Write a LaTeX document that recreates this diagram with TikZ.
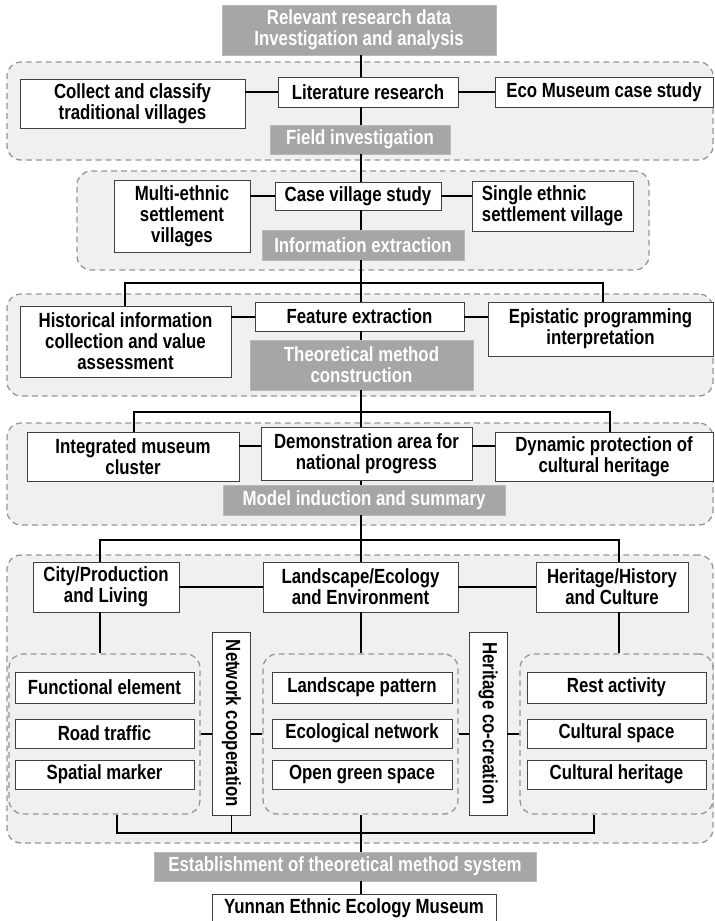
\documentclass[tikz,border=0pt]{standalone}
\usepackage{fontspec}
\setmainfont{Liberation Sans}[FakeStretch=0.82]
\definecolor{headgray}{RGB}{166,166,166}
\definecolor{zonegray}{RGB}{240,240,240}
\definecolor{dashgray}{RGB}{150,150,150}
\tikzset{
  wh/.style 2 args={minimum width=#1*0.03cm, minimum height=#2*0.03cm},
  zone/.style={draw=dashgray, fill=zonegray, line width=1.1pt, dash pattern=on 5pt off 3.5pt, rounded corners=12pt, inner sep=0},
  box/.style={draw=black!75, fill=white, line width=0.8pt, align=center, inner sep=0},
  head/.style={draw=gray!55, fill=headgray, text=white},
  link/.style={line width=1.7pt},
}
\begin{document}
\begin{tikzpicture}[x=0.03cm, y=-0.03cm, font=\fontsize{17.5}{18}\selectfont\bfseries]
\useasboundingbox (0,0) rectangle (714,921);

      % dashed zones
      \begin{scope}[every node/.style={zone}]
        \node[wh={706}{98}]  (z1) at (360,111) {};
        \node[wh={572}{99}]  (z2) at (363,220.5) {};
        \node[wh={706}{102}] (z3) at (360,345) {};
        \node[wh={706}{102}] (z4) at (360,474) {};
        \node[wh={706}{288}] (z5) at (360,699) {};
        \node[wh={191}{160}] (gL) at (104.5,734) {};
        \node[wh={195}{160}] (gM) at (360.5,734) {};
        \node[wh={193}{160}] (gR) at (616.5,734) {};
      \end{scope}

      \begin{scope}[every node/.style={box}]
        \node[head,wh={274}{50}] (h1)    at (359,30)    {Relevant research data\\Investigation and analysis};
        \node[wh={225}{49}]      (coll)  at (132.5,103.5) {Collect and classify\\traditional villages};
        \node[wh={180}{30}]      (lit)   at (368,92)    {Literature research};
        \node[wh={218}{30}]      (eco)   at (604,92)    {Eco Museum case study};
        \node[head,wh={180}{29}] (field) at (360,139.5) {Field investigation};

        \node[wh={136}{72}]      (multi) at (182,216)   {Multi-ethnic\\settlement\\villages};
        \node[wh={166}{28}]      (case)  at (358,196)   {Case village study};
        \node[wh={161}{50},align=left] (single) at (552.5,206) {Single ethnic\\settlement village};
        \node[head,wh={202}{30}] (info)  at (363,245)   {Information extraction};

        \node[wh={211}{71}]      (hist)  at (125.5,341.5) {Historical information\\collection and value\\assessment};
        \node[wh={209}{29}]      (feat)  at (359.5,316.5) {Feature extraction};
        \node[wh={225}{54}]      (epi)   at (600.5,329) {Epistatic programming\\interpretation};
        \node[head,wh={223}{50}] (theo)  at (361.5,365) {Theoretical method\\construction};

        \node[wh={212}{49}]      (integ) at (133,456.5) {Integrated museum\\cluster};
        \node[wh={211}{53}]      (demo)  at (366.5,454) {Demonstration area for\\national progress};
        \node[wh={218}{49}]      (dyn)   at (604,456.5) {Dynamic protection of\\cultural heritage};
        \node[head,wh={282}{30}] (model) at (364,500)   {Model induction and summary};

        \node[wh={146}{50}]      (city)  at (106,587)   {City/Production\\and Living};
        \node[wh={195}{50}]      (land)  at (360.5,587) {Landscape/Ecology\\and Environment};
        \node[wh={152}{50}]      (heri)  at (612,587)   {Heritage/History\\and Culture};

        \node[wh={179}{31}]      (funL)  at (104.5,687.5) {Functional element};
        \node[wh={179}{29}]      (rdL)   at (104.5,733.5) {Road traffic};
        \node[wh={179}{29}]      (spL)   at (104.5,774.5) {Spatial marker};
        \node[wh={180}{31}]      (patM)  at (362,687.5) {Landscape pattern};
        \node[wh={180}{29}]      (ecoM)  at (362,733.5) {Ecological network};
        \node[wh={180}{29}]      (grnM)  at (362,774.5) {Open green space};
        \node[wh={179}{31}]      (resR)  at (616.5,687.5) {Rest activity};
        \node[wh={179}{29}]      (spaR)  at (616.5,733.5) {Cultural space};
        \node[wh={179}{29}]      (cheR)  at (616.5,774.5) {Cultural heritage};

        \node[wh={38}{183}]      (net)   at (231.5,723.5) {\rotatebox{-90}{Network cooperation}};
        \node[wh={38}{183}]      (hco)   at (488,723.5) {\rotatebox{-90}{Heritage co-creation}};

        \node[head,wh={382}{29}] (est)   at (345,866.5) {Establishment of theoretical method system};
        \node[wh={284}{28}]      (yun)   at (354,908)   {Yunnan Ethnic Ecology Museum};
      \end{scope}

      % connectors
      \coordinate (sp) at (361,0);
      \coordinate (l1) at (125,283);  \coordinate (r1) at (603,283);
      \coordinate (l2) at (134,412);  \coordinate (r2) at (610,412);
      \coordinate (l3) at (100,540);  \coordinate (r3) at (619,540);
      \coordinate (l4) at (117,833);  \coordinate (r4) at (594,833);
      \coordinate (d4) at (0,446);

      \begin{scope}[every path/.style={link}]
        \foreach \a/\b in {h1/lit, lit/field, field/case, case/info, info/feat, feat/theo,
                           theo/demo, demo/model, model/land, land/gM, gM/est, est/yun}
          \draw (sp |- \a.south) -- (sp |- \b.north);

        \draw (coll.east |- lit) -- (lit.west);
        \draw (lit.east) -- (eco.west |- lit);
        \draw (multi.east |- case) -- (case.west);
        \draw (case.east) -- (single.west |- case);
        \draw (hist.east |- feat) -- (feat.west);
        \draw (feat.east) -- (epi.west |- feat);
        \draw (integ.east |- d4) -- (demo.west |- d4);
        \draw (demo.east |- d4) -- (dyn.west |- d4);
        \draw (city.east) -- (land.west);
        \draw (land.east) -- (heri.west);

        \draw (l1 |- hist.north) -- (l1) -- (r1) -- (r1 |- epi.north);
        \draw (l2 |- integ.north) -- (l2) -- (r2) -- (r2 |- dyn.north);
        \draw (l3 |- city.north) -- (l3) -- (r3) -- (r3 |- heri.north);
        \draw (l3 |- city.south) -- (l3 |- gL.north);
        \draw (r3 |- heri.south) -- (r3 |- gR.north);

        \draw (gL.east |- rdL) -- (net.west |- rdL);
        \draw (net.east |- rdL) -- (gM.west |- rdL);
        \draw (gM.east |- rdL) -- (hco.west |- rdL);
        \draw (hco.east |- rdL) -- (gR.west |- rdL);

        \draw (l4 |- gL.south) -- (l4) -- (r4) -- (r4 |- gR.south);
        \draw (net.south) -- (net.south |- l4);
      \end{scope}

\end{tikzpicture}
\end{document}
